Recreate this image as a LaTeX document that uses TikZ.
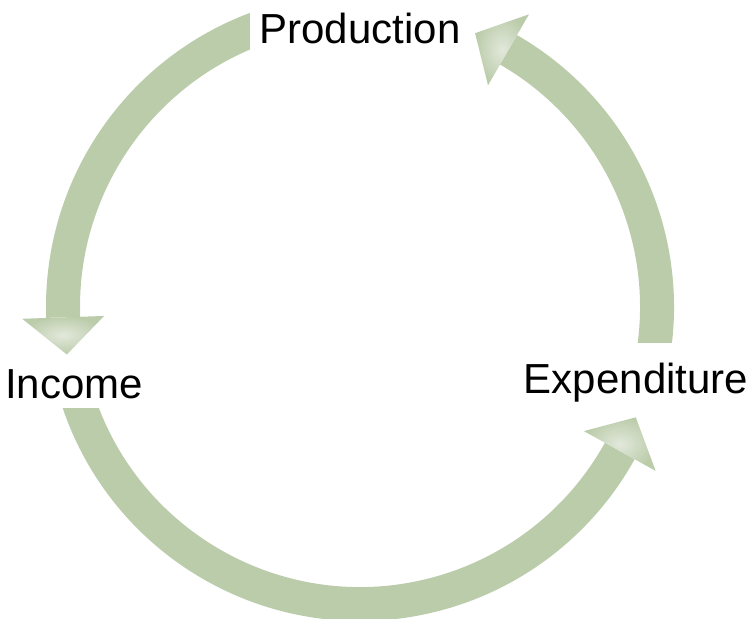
\documentclass[tikz,border=0pt]{standalone}
\usepackage{fontspec}
\setmainfont{Liberation Sans}
\usetikzlibrary{calc}
\definecolor{flowgreen}{RGB}{187,204,170}
\definecolor{flowlight}{RGB}{226,232,219}

\begin{document}
\begin{tikzpicture}[x=0.5pt, y=0.5pt,
  flow/.style={draw=flowgreen, line width=17pt},
  flowhead/.style={inner color=flowlight, outer color=flowgreen},
  lbl/.style={fill=white, inner sep=0pt, font=\fontsize{21}{25}\selectfont, text height=15pt, text depth=0pt}]
\useasboundingbox (0,0) rectangle (754,618);
\coordinate (c) at (360,311);
% arcs of the cycle
\foreach \s/\e in {105/182, 195/331, -15/60}{
  \draw[flow] ($(c)+(\s:297)$) arc[start angle=\s, end angle=\e, radius=297];
}
% labels hide the loose ends
\node[lbl, minimum width=110pt, minimum height=29pt] (prod) at (360,590) {Production};
\node[lbl, text height=30pt, minimum height=40pt, text width=99pt, inner xsep=2.5pt, align=left] (inc) at (104,250) {Income};
\node[lbl, minimum width=118pt, minimum height=35pt] (exp) at (636,240) {Expenditure};
% arrow heads
\foreach \b/\t in {182/189.2, 331/338.2, 60/67.2}{
  \shade[flowhead] ($(c)+(\b:256)$) -- ($(c)+(\b:338)$) -- ($(c)+(\t:297)$) -- cycle;
}
\end{tikzpicture}
\end{document}
